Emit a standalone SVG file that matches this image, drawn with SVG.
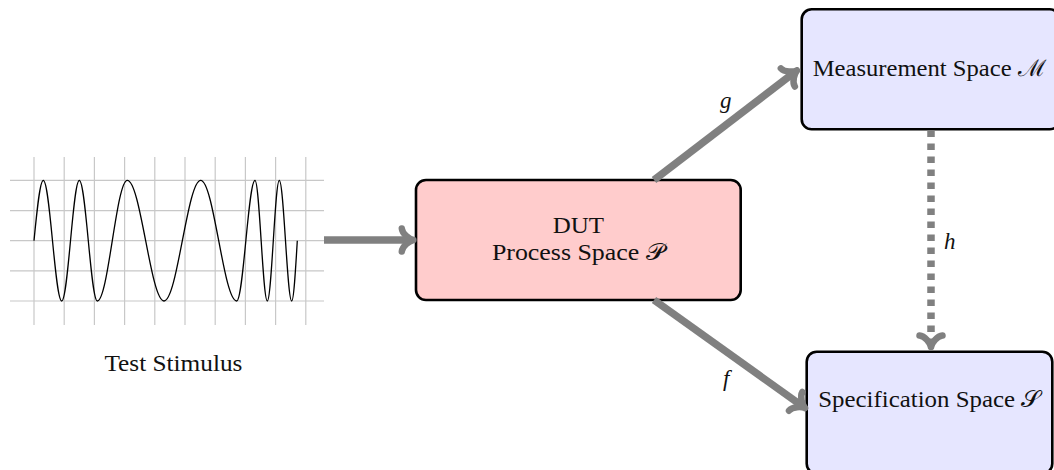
<svg xmlns="http://www.w3.org/2000/svg" width="1054" height="470" viewBox="0 0 1054 470">
<style>
.grid{stroke:#c8c8c8;stroke-width:1.2;fill:none}
.wave{stroke:#000;stroke-width:1.3;fill:none}
.box{stroke:#000;stroke-width:2.6}
.lbl{font-family:'Liberation Serif','DejaVu Serif',serif;font-size:23px;fill:#111}
.math{font-family:'Liberation Serif','DejaVu Serif',serif;font-size:23px;font-style:italic;fill:#111}
.arr{stroke:#808080;stroke-width:7.5;fill:none}
</style>
<defs>
<marker id="tip" markerUnits="userSpaceOnUse" orient="auto" overflow="visible" refX="-3" refY="0" markerWidth="1" markerHeight="1">
<path d="M -11.5 -11.5 C -11 -6 -4 -1 0 0 M -11.5 11.5 C -11 6 -4 1 0 0" stroke="#808080" stroke-width="6.5" fill="none" stroke-linecap="round" stroke-linejoin="round" stroke-dasharray="none"/>
</marker>
</defs>
<g id="stimulus">
<g class="grid">
<path d="M34 157V325M64.2 157V325M94.4 157V325M124.6 157V325M154.8 157V325M185 157V325M215.2 157V325M245.4 157V325M275.6 157V325M305.8 157V325"/>
<path d="M10 180.4H324M10 210.6H324M10 240.7H324M10 270.9H324M10 301H324"/>
</g>
<path class="wave" d="M34 240.7C37.03 209.8 39.93 180.4 43.3 180.4C46.63 180.4 49.5 209.8 52.5 240.7C55.5 271.6 58.37 301 61.7 301C64.89 301 67.63 271.6 70.5 240.7C73.37 209.8 76.11 180.4 79.3 180.4C82.56 180.4 85.37 209.8 88.3 240.7C91.23 271.6 94.04 301 97.3 301C102.73 301 107.41 271.6 112.3 240.7C117.19 209.8 121.87 180.4 127.3 180.4C133.94 180.4 139.67 209.8 145.65 240.7C151.63 271.6 157.36 301 164 301C170.64 301 176.37 271.6 182.35 240.7C188.33 209.8 194.06 180.4 200.7 180.4C207.22 180.4 212.83 209.8 218.7 240.7C224.57 271.6 230.18 301 236.7 301C240.01 301 242.87 271.6 245.85 240.7C248.83 209.8 251.69 180.4 255 180.4C257.23 180.4 259.14 209.8 261.15 240.7C263.16 271.6 265.07 301 267.3 301C269.47 301 271.34 271.6 273.3 240.7C275.26 209.8 277.13 180.4 279.3 180.4C281.54 180.4 283.48 209.8 285.5 240.7C287.52 271.6 289.46 301 291.7 301C293.73 301 295.47 271.6 297.3 240.7"/>
<text class="lbl" x="173.4" y="370.5" text-anchor="middle" textLength="138" lengthAdjust="spacingAndGlyphs">Test Stimulus</text>
</g>
<g id="dut">
<rect class="box" x="416" y="180" width="324.7" height="120" rx="10" fill="#ffcccc"/>
<text class="lbl" x="578.4" y="232.7" text-anchor="middle" textLength="51.3" lengthAdjust="spacingAndGlyphs">DUT</text>
<text class="lbl" x="578.4" y="260" text-anchor="middle" textLength="173" lengthAdjust="spacingAndGlyphs">Process Space 𝒫</text>
</g>
<g id="measurement">
<rect class="box" x="801.7" y="9.3" width="258" height="120" rx="10" fill="#e6e6ff"/>
<text class="lbl" x="929.7" y="76" text-anchor="middle" textLength="234" lengthAdjust="spacingAndGlyphs">Measurement Space ℳ</text>
</g>
<g id="specification">
<rect class="box" x="806.7" y="351.7" width="245.6" height="122" rx="10" fill="#e6e6ff"/>
<text class="lbl" x="929.5" y="406.5" text-anchor="middle" textLength="222.4" lengthAdjust="spacingAndGlyphs">Specification Space 𝒮</text>
</g>
<g id="connectors">
<line class="arr" x1="324" y1="240" x2="410.3" y2="240" marker-end="url(#tip)"/>
<line class="arr" x1="654" y1="180" x2="794.6" y2="72.3" marker-end="url(#tip)"/>
<line class="arr" x1="654" y1="300" x2="802.6" y2="406.3" marker-end="url(#tip)"/>
<line class="arr" x1="931" y1="130.6" x2="931" y2="344" stroke-dasharray="6.5 6.5" marker-end="url(#tip)"/>
<text class="math" x="720" y="108">g</text>
<text class="math" x="723" y="385.5">f</text>
<text class="math" x="944" y="249.3">h</text>
</g>
</svg>
